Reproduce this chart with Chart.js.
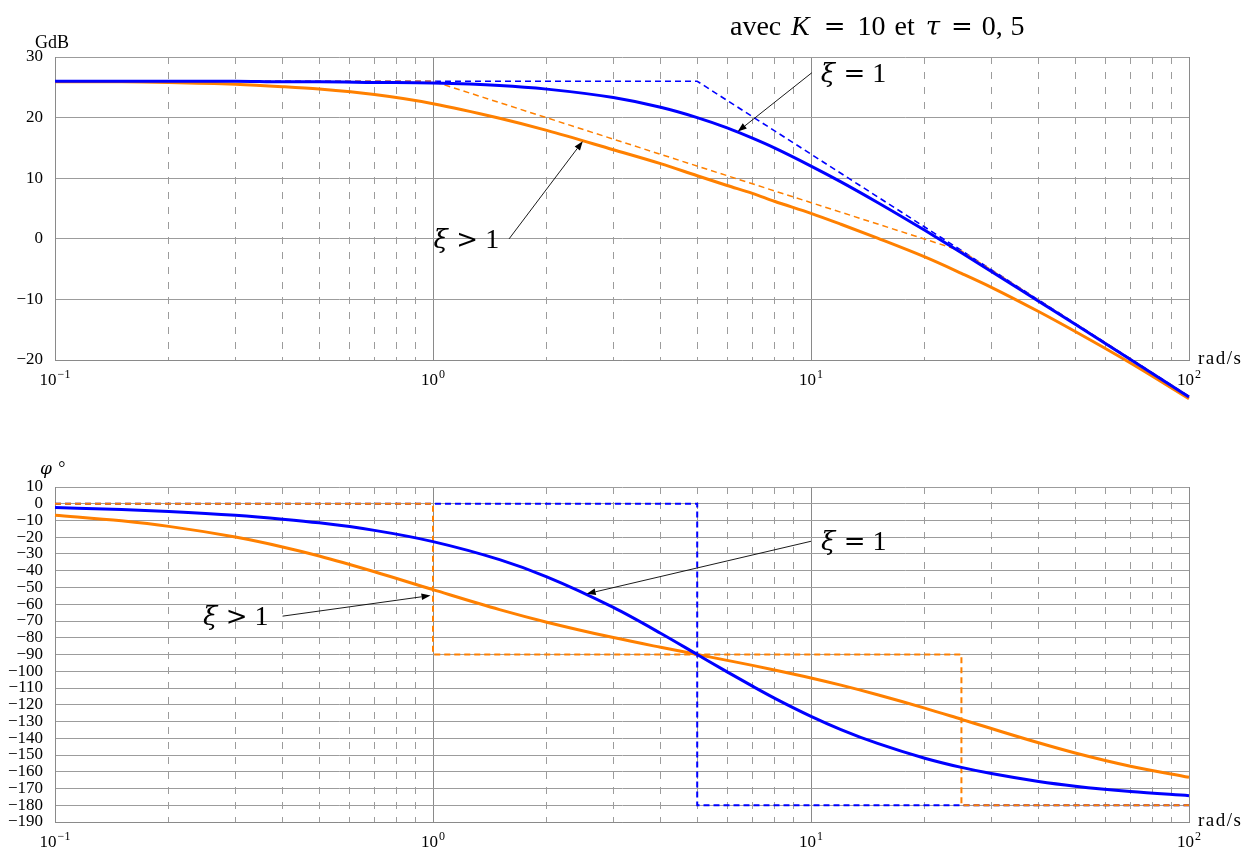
<!DOCTYPE html>
<html>
<head>
<meta charset="utf-8">
<title>Diagramme de Bode</title>
<script src="https://cdn.jsdelivr.net/npm/chart.js@4.4.1/dist/chart.umd.min.js"></script>
<style>
  body { margin: 0; background: #fff; }
  canvas { position: absolute; left: 0; }
  #gain { top: 0; }
  #phase { top: 430px; }
</style>
</head>
<body>
<canvas id="gain" width="1246" height="430"></canvas>
<canvas id="phase" width="1246" height="418"></canvas>
<script>
// pulsations (rad/s)
var omega = [0.1, 0.15, 0.2, 0.3, 0.4, 0.5, 0.7, 1, 1.5, 2, 3, 4, 5, 6, 7, 8, 10, 12, 15, 20, 25, 30, 40, 50, 70, 100];

// gain (dB) : xi = 1 et xi > 1
var gainCritique = [26.0, 26.0, 26.0, 26.0, 25.9, 25.9, 25.8, 25.7, 25.3, 24.7, 23.3, 21.7, 20.0, 18.3, 16.6, 15.0, 12.0, 9.4, 6.0, 1.4, -2.3, -5.4, -10.3, -14.1, -19.9, -26.1];
var gainApério = [25.9, 25.9, 25.8, 25.5, 25.1, 24.7, 23.8, 22.3, 19.9, 17.9, 14.7, 12.4, 10.4, 8.8, 7.5, 6.2, 4.2, 2.4, 0.1, -3.0, -5.7, -8.0, -12.0, -15.3, -20.5, -26.4];

// phase (degres)
var phaseCritique = [-2.3, -3.4, -4.6, -6.9, -9.2, -11.4, -15.9, -22.6, -33.4, -43.6, -61.9, -77.3, -90.0, -100.4, -108.9, -116.0, -126.9, -134.8, -143.1, -151.9, -157.4, -161.1, -165.8, -168.6, -171.8, -174.3];
var phaseApério = [-6.8, -10.2, -13.5, -19.9, -25.8, -31.2, -40.6, -51.3, -63.2, -70.7, -79.9, -85.7, -90.0, -93.5, -96.5, -99.2, -104.0, -108.3, -114.0, -122.0, -128.7, -134.2, -142.7, -148.8, -156.7, -163.3];

// asymptotes [omega, valeur]
var asymGainCritique = [[0.1, 26], [5, 26], [100, -26]];
var asymGainApério = [[0.1, 26], [1, 26], [25, -2], [100, -26]];
var asymPhaseCritique = [[0.1, 0], [5, 0], [5, -180], [100, -180]];
var asymPhaseApério = [[0.1, 0], [1, 0], [1, -90], [25, -90], [25, -180], [100, -180]];

// graduations
var xGrid = [0.1, 0.2, 0.3, 0.4, 0.5, 0.6, 0.7, 0.8, 0.9,
             1, 2, 3, 4, 5, 6, 7, 8, 9,
             10, 20, 30, 40, 50, 60, 70, 80, 90, 100];
var decades = [0.1, 1, 10, 100];
var decadeExponents = ['\u22121', '0', '1', '2'];

var BLEU = '#0000ff';
var ORANGE = '#ff8000';
var SERIF = "'Liberation Serif', 'DejaVu Serif', serif";
var MATH = "'DejaVu Serif', serif";

function pts(xs, ys) {
  return xs.map(function (x, i) { return { x: x, y: ys[i] }; });
}
function pairs(list) {
  return list.map(function (p) { return { x: p[0], y: p[1] }; });
}
function isDecade(c) {
  return c.tick && decades.indexOf(c.tick.value) >= 0;
}
function minus(v) {
  return v < 0 ? '\u2212' + Math.abs(v) : String(v);
}

// morceaux de texte : ['txt'] droit, ['txt','i'] italique, ['txt','g'] grec italique,
// ['txt','m'] operateur (=, >), un nombre = espace en em
function drawMath(ctx, parts, x, y, size, align) {
  function font(p) {
    var s = Math.round(size * 0.92);
    if (p[1] === 'g') ctx.font = 'italic ' + s + 'px ' + MATH;
    else if (p[1] === 'm') ctx.font = s + 'px ' + MATH;
    else ctx.font = (p[1] === 'i' ? 'italic ' : '') + size + 'px ' + SERIF;
  }
  var w = 0;
  parts.forEach(function (p) {
    if (typeof p === 'number') { w += p * size; }
    else { font(p); w += ctx.measureText(p[0]).width; }
  });
  if (align === 'right') x -= w;
  else if (align === 'center') x -= w / 2;
  ctx.textAlign = 'left';
  ctx.textBaseline = 'alphabetic';
  ctx.fillStyle = '#000';
  parts.forEach(function (p) {
    if (typeof p === 'number') { x += p * size; return; }
    font(p);
    ctx.fillText(p[0], x, y);
    x += ctx.measureText(p[0]).width;
  });
}

function drawArrow(ctx, x0, y0, x1, y1) {
  var a = Math.atan2(y1 - y0, x1 - x0), L = 9, h = 3.3;
  var bx = x1 - L * Math.cos(a), by = y1 - L * Math.sin(a);
  ctx.strokeStyle = '#000';
  ctx.lineWidth = 0.9;
  ctx.setLineDash([]);
  ctx.beginPath();
  ctx.moveTo(x0, y0);
  ctx.lineTo(bx, by);
  ctx.stroke();
  ctx.fillStyle = '#000';
  ctx.beginPath();
  ctx.moveTo(x1, y1);
  ctx.lineTo(bx + h * Math.sin(a), by - h * Math.cos(a));
  ctx.lineTo(bx - h * Math.sin(a), by + h * Math.cos(a));
  ctx.closePath();
  ctx.fill();
}

// fleches, etiquettes xi, puissances de 10, noms des axes et titre
var notes = {
  id: 'notes',
  afterDatasetsDraw: function (chart, args, opts) {
    var ctx = chart.ctx, xs = chart.scales.x, ys = chart.scales.y, area = chart.chartArea;
    ctx.save();
    (opts.arrows || []).forEach(function (ar) {
      var x0 = xs.getPixelForValue(ar.from[0]), y0 = ys.getPixelForValue(ar.from[1]);
      var x1 = xs.getPixelForValue(ar.to[0]), y1 = ys.getPixelForValue(ar.to[1]);
      drawArrow(ctx, x0, y0, x1, y1);
      drawMath(ctx, ar.label, x0 + ar.dx, y0 + 9, 28, ar.dx < 0 ? 'right' : 'left');
    });

    // 10^n sous l'axe des pulsations
    decades.forEach(function (v, k) {
      var x = xs.getPixelForValue(v), y = area.bottom + 25;
      ctx.font = '17px ' + SERIF;
      var wb = ctx.measureText('10').width;
      ctx.font = '12px ' + SERIF;
      var we = ctx.measureText(decadeExponents[k]).width;
      var left = x - (wb + 1 + we) / 2;
      ctx.fillStyle = '#000';
      ctx.textAlign = 'left';
      ctx.textBaseline = 'alphabetic';
      ctx.font = '17px ' + SERIF;
      ctx.fillText('10', left, y);
      ctx.font = '12px ' + SERIF;
      ctx.fillText(decadeExponents[k], left + wb + 1, y - 7);
    });

    if (opts.yName) {
      drawMath(ctx, opts.yName, area.left + opts.yNameDx, area.top - opts.yNameDy, 18, 'left');
    }
    ctx.letterSpacing = '1.5px';
    drawMath(ctx, [['rad/s']], area.right + 9, area.bottom + 4, 19, 'left');
    ctx.letterSpacing = '0px';
    if (opts.title) {
      drawMath(ctx, opts.title, 730, 35, 28, 'left');
    }
    ctx.restore();
  }
};

function xScale() {
  return {
    type: 'logarithmic',
    min: 0.1,
    max: 100,
    afterBuildTicks: function (s) {
      s.ticks = xGrid.map(function (v) { return { value: v }; });
    },
    ticks: {
      autoSkip: false,
      maxRotation: 0,
      callback: function () { return ''; }
    },
    grid: {
      drawTicks: false,
      lineWidth: 1,
      color: function (c) { return isDecade(c) ? '#8a8a8a' : '#9c9c9c'; }
    },
    border: {
      color: '#8a8a8a',
      dash: function (c) { return c.tick && !isDecade(c) ? [7, 8] : []; }
    },
    afterFit: function (s) { s.height = s.chart.height - s.chart.options.plotBottom; }
  };
}

function yScale(min, max) {
  return {
    min: min,
    max: max,
    ticks: {
      stepSize: 10,
      autoSkip: false,
      padding: 12,
      color: '#000',
      font: { family: SERIF, size: 17 },
      callback: function (v) { return minus(v); }
    },
    grid: { drawTicks: false, lineWidth: 1, color: '#9c9c9c' },
    border: { color: '#8a8a8a' },
    afterFit: function (s) { s.width = 55; }
  };
}

function courbe(data, color, order) {
  return {
    data: data, borderColor: color, borderWidth: 3, pointRadius: 0,
    cubicInterpolationMode: 'monotone', clip: false, order: order
  };
}
function asymptote(data, color, width, order) {
  return {
    data: data, borderColor: color, borderWidth: width, borderDash: [6, 4],
    pointRadius: 0, tension: 0, clip: false, order: order
  };
}

function options(yMin, yMax, plotBottom, notesOpts) {
  return {
    responsive: false,
    animation: false,
    devicePixelRatio: 1,
    plotBottom: plotBottom,
    layout: { padding: { top: 57, right: 57, left: 0, bottom: 0 } },
    scales: { x: xScale(), y: yScale(yMin, yMax) },
    plugins: { legend: { display: false }, tooltip: { enabled: false }, notes: notesOpts }
  };
}

var XI_EGAL = [['ξ', 'g'], 0.3, ['=', 'm'], 0.25, ['1']];
var XI_SUP = [['ξ', 'g'], 0.3, ['>', 'm'], 0.25, ['1']];

new Chart(document.getElementById('gain'), {
  type: 'line',
  data: {
    datasets: [
      courbe(pts(omega, gainCritique), BLEU, 0),
      courbe(pts(omega, gainApério), ORANGE, 1),
      asymptote(pairs(asymGainApério), ORANGE, 1.5, 2),
      asymptote(pairs(asymGainCritique), BLEU, 1.6, 3)
    ]
  },
  options: options(-20, 30, 360, {
    arrows: [
      { from: [10.05, 27.4], to: [6.4, 17.7], dx: 9, label: XI_EGAL },
      { from: [1.59, 0], to: [2.49, 16.1], dx: -10, label: XI_SUP }
    ],
    yName: [['GdB']], yNameDx: -20, yNameDy: 9,
    title: [['avec'], 0.35, ['K', 'i'], 0.5, ['=', 'm'], 0.43, ['10'], 0.32, ['et'], 0.39,
            ['τ', 'g'], 0.39, ['=', 'm'], 0.32, ['0,'], 0.28, ['5']]
  }),
  plugins: [notes]
});

new Chart(document.getElementById('phase'), {
  type: 'line',
  data: {
    datasets: [
      courbe(pts(omega, phaseCritique), BLEU, 0),
      courbe(pts(omega, phaseApério), ORANGE, 1),
      asymptote(pairs(asymPhaseApério), ORANGE, 2, 2),
      asymptote(pairs(asymPhaseCritique), BLEU, 2, 3)
    ]
  },
  options: options(-190, 10, 392, {
    arrows: [
      { from: [10, -22.4], to: [2.55, -53.8], dx: 10, label: XI_EGAL },
      { from: [0.4, -67.1], to: [0.985, -54.8], dx: -14, label: XI_SUP }
    ],
    yName: [['φ', 'g'], 0.35, ['°']], yNameDx: -15, yNameDy: 13
  }),
  plugins: [notes]
});
</script>
</body>
</html>
